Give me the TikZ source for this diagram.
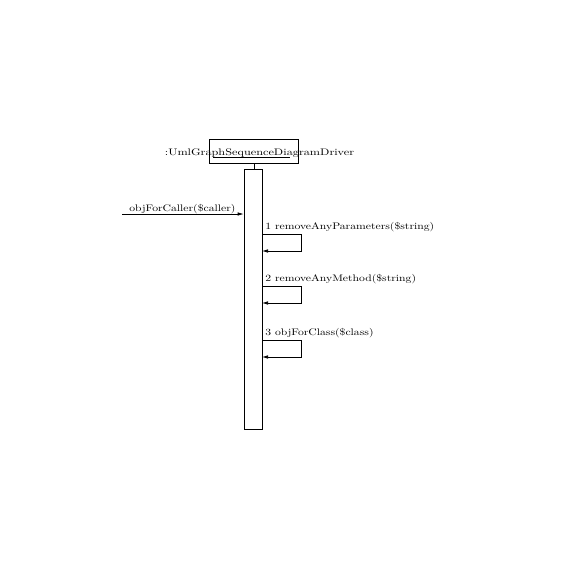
\documentclass[tikz,border=0pt]{standalone}
\usetikzlibrary{arrows.meta}
\newcommand{\widetext}[2][1.23]{\scalebox{#1}[1]{\fontsize{9.5}{10}\selectfont #2}}
\begin{document}
\begin{tikzpicture}[x=1pt,y=-1pt,
  line width=0.7pt,
  msgtext/.style={inner sep=0pt, anchor=base west},
  msgarrow/.style={-{Latex[length=6pt,width=3.5pt]}},
  objbox/.style={draw, minimum width=89pt, minimum height=24pt, inner sep=0pt},
  actbox/.style={draw, minimum width=18pt, minimum height=260pt, inner sep=0pt}]
  \useasboundingbox (0,0) rectangle (570,570);

  % object head and its lifeline tick
  \node[objbox] (obj) at (253.5,151) {};
  \node[inner sep=0pt, anchor=base] (objname) at (259.5,155) {\widetext[1.29]{:UmlGraphSequenceDiagramDriver}};
  \draw[line width=0.6pt] (213,157.5) -- (290,157.5);
  \node[actbox] (act) at (253,299) {};
  \draw (obj.south -| 254,0) -- (act.north -| 254,0);

  % incoming call
  \coordinate (caller) at (122,214);
  \draw[msgarrow] (caller) -- (caller -| act.west);
  \node[msgtext] (callname) at (129,211.5) {\widetext{objForCaller(\$caller)}};

  % self calls
  \foreach \n/\y/\txt in {1/234/1 removeAnyParameters(\$string),
                          2/286/2 removeAnyMethod(\$string),
                          3/340/3 objForClass(\$class)} {
    \coordinate (s\n) at (262,\y);
    \coordinate (r\n) at (301,\y);
    \node[msgtext] (l\n) at (265,\y-5) {\widetext{\txt}};
    \draw[msgarrow] (s\n) -- (r\n) -- ++(0,17) -- (s\n |- 0,\y+17);
  }
\end{tikzpicture}
\end{document}
